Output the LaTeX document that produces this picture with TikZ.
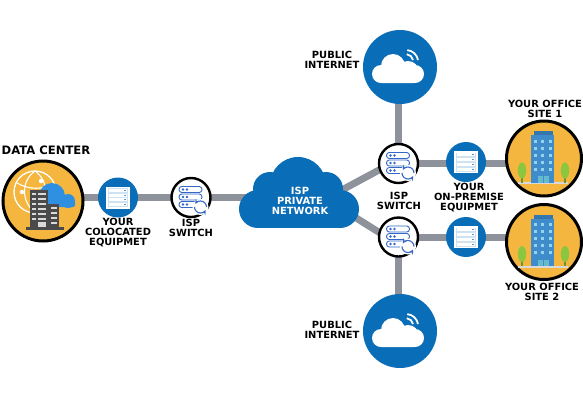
\documentclass[tikz,border=0pt]{standalone}
\usepackage{fontspec}
\setmainfont{DejaVu Sans}
\usetikzlibrary{backgrounds}
\definecolor{netblue}{HTML}{0A6DB7}
\definecolor{linkgray}{HTML}{8E929B}
\definecolor{sun}{HTML}{F4B63F}
\definecolor{swblue}{HTML}{3568C4}
\definecolor{bld}{HTML}{3E8CCB}
\definecolor{win}{HTML}{93D3EC}
\definecolor{tree}{HTML}{8CC63F}
\definecolor{dark}{HTML}{4A4A4A}
\definecolor{skyb}{HTML}{2F8FE0}
\tikzset{
 x=1pt,y=-1pt,
 link/.style={draw=linkgray,line width=7pt},
 bluedisc/.style={circle,fill=netblue,inner sep=0pt,outer sep=0pt},
 ringdisc/.style={circle,draw=black,line width=2.4pt,fill=white,inner sep=0pt,outer sep=0pt,minimum size=39pt},
 sundisc/.style={circle,draw=black,line width=3pt,fill=sun,inner sep=0pt,outer sep=0pt,minimum size=75pt},
 lab/.style={font=\fontsize{9.9}{10}\bfseries\selectfont,align=center,inner sep=0pt,text=black},
 whitelab/.style={lab,text=white},
 serverpic/.pic={
  \fill[white] (-12,-11) rectangle (12,11);
  \fill[white!80!netblue] (-10,-9.5) rectangle (10,9.5);
  \foreach \r in {-9.5,-4.7,0.1,4.9}{
    \fill[white] (-9,\r+0.8) rectangle (9,\r+3.7);
    \fill[netblue!70] (6,\r+1.7) rectangle (8,\r+2.8);}
 },
 switchpic/.pic={
  \foreach \r in {-8,-0.5,7}{
    \draw[swblue,line width=0.9pt,fill=white,rounded corners=2.8pt] (-12,\r-3) rectangle (11,\r+3);
    \fill[swblue] (-8,\r) circle[radius=1.3] (-4,\r) circle[radius=1.3];}
  \fill[white] (9.5,9.5) circle[radius=8];
  \draw[swblue,line width=1.1pt,-stealth] (15.5,9.5) arc[start angle=0,end angle=-150,radius=6];
  \draw[swblue,line width=1.1pt,-stealth] (3.5,9.5) arc[start angle=180,end angle=30,radius=6];
 },
 netcloudpic/.pic={
  \fill[white] (-7,-1) circle[radius=12] (-19,7) circle[radius=9] (15,7) circle[radius=9] (8,5) circle[radius=11];
  \fill[white,rounded corners=1pt] (-19,2) rectangle (15,16);
  \draw[white,line width=1.8pt] (13,-7) arc[start angle=-10,end angle=-85,radius=7];
  \draw[white,line width=1.8pt] (18,-7) arc[start angle=-10,end angle=-85,radius=12];
 },
 officepic/.pic={
  \fill[white!85!black] (-26,23.5) rectangle (24,25.5);
  \foreach \tx in {-22,21}{
   \fill[tree!75!black] (\tx-0.8,14) rectangle (\tx+0.8,24);
   \fill[tree] (\tx,12) ellipse[x radius=4.2,y radius=8];}
  \fill[bld!85!black] (-10,-27.5) rectangle (9,-22);
  \fill[bld] (-13,-23.5) rectangle (10,24);
  \foreach \wy in {-19,-12,-5,2,9}{
   \foreach \wx in {-10.5,-3,4.5}{
    \fill[win] (\wx,\wy) rectangle (\wx+3.4,\wy+3.4);}}
  \fill[win!70!teal] (-6,17.5) rectangle (-0.8,24);
  \fill[win!70!teal] (0,17.5) rectangle (5,24);
 },
 dcpic/.pic={
  \draw[white,line width=1.3pt] (-8,-9) circle[radius=21];
  \draw[white,line width=1.1pt] (-8,-30) .. controls (-22,-20) and (-22,0) .. (-8,12);
  \draw[white,line width=1.1pt] (-8,-30) .. controls (6,-20) and (6,0) .. (-8,12);
  \draw[white,line width=1.1pt] (-26,-18) .. controls (-14,-11) and (0,-11) .. (11,-18);
  \fill[white] (-21,-9) circle[radius=2.2] (-2,-20) circle[radius=2.2];
  \fill[skyb] (9,-5) circle[radius=13] (25,0) circle[radius=7] (2,0) circle[radius=6];
  \fill[skyb,rounded corners=2pt] (-1,-1) rectangle (32,6);
  \fill[dark] (-13,-11) rectangle (5,26);
  \fill[dark] (5,3) rectangle (16,26);
  \fill[dark] (-17,26) rectangle (21,28.5);
  \foreach \wy in {-8,-3,2,7,12,17}{
    \fill[white!85!black] (-11,\wy) rectangle (-7,\wy+1.7);
    \fill[white!85!black] (-5,\wy) rectangle (3,\wy+1.7);}
  \foreach \wy in {6,11,16,21}{
    \fill[white!85!black] (8,\wy) rectangle (14,\wy+1.5);}
  \fill[white!85!black] (-5,21) rectangle (3,26);
 }
}
\begin{document}
\begin{tikzpicture}
\useasboundingbox (0,0) rectangle (583,400);
% cloud shape
\fill[netblue] (298,185) circle[radius=28] (270,189) circle[radius=17] (326,189) circle[radius=17] (258,209) circle[radius=19] (340,209) circle[radius=19];
\fill[netblue] (258,190) rectangle (340,228);
\node[whitelab] (ispnet) at (300,200.5) {ISP\\PRIVATE\\NETWORK};
\coordinate (cloudW) at (260,197.5);
\coordinate (cloudNE) at (340,191);
\coordinate (cloudSE) at (345,211);
% circles
\node[sundisc,minimum size=80pt] (dc) at (43,201) {};
\node[bluedisc,minimum size=40pt] (colo) at (118,197.5) {};
\node[ringdisc] (swL) at (191,197.5) {};
\node[ringdisc] (swT) at (398.5,163.5) {};
\node[ringdisc] (swB) at (398.5,237) {};
\node[bluedisc,minimum size=74pt] (pubT) at (400,67) {};
\node[bluedisc,minimum size=74pt] (pubB) at (400,331) {};
\node[bluedisc,minimum size=40pt] (eqT) at (466,162) {};
\node[bluedisc,minimum size=40pt] (eqB) at (466,237) {};
\node[sundisc] (ofT) at (544,158.5) {};
\node[sundisc] (ofB) at (544,242) {};
% connectors
\begin{scope}[on background layer]
\draw[link] (dc.center |- colo.center) -- (colo.center);
\draw[link] (colo.center) -- (swL.center);
\draw[link] (swL.center) -- (cloudW);
\draw[link] (cloudNE) -- (swT.198);
\draw[link] (cloudSE) -- (swB.167);
\draw[link] (pubT.center -| swT.center) -- (swT.center);
\draw[link] (pubB.center -| swB.center) -- (swB.center);
\draw[link] (swT.center) -- (swT.center -| eqT.center);
\draw[link] (swB.center) -- (eqB.center);
\draw[link] (swT.center -| eqT.center) -- (swT.center -| ofT.center);
\draw[link] (eqB.center) -- (eqB.center -| ofB.center);
\end{scope}
% icons
\pic at (dc.center) {dcpic};
\pic at (colo.center) {serverpic};
\pic at (eqT.center) {serverpic};
\pic at (eqB.center) {serverpic};
\pic at (swL.center) {switchpic};
\pic at (swT.center) {switchpic};
\pic at (swB.center) {switchpic};
\pic at (pubT.center) {netcloudpic};
\pic at (pubB.center) {netcloudpic};
\pic at (ofT.center) {officepic};
\pic at (ofB.center) {officepic};
% labels
\node[lab,font=\fontsize{11.6}{12}\bfseries\selectfont] (ldc) at (46,150.5) {DATA CENTER};
\node[lab] (lcolo) at (118,232.5) {YOUR\\COLOCATED\\EQUIPMET};
\node[lab] (lswL) at (191,228) {ISP\\SWITCH};
\node[lab] (lswR) at (399,200.5) {ISP\\SWITCH};
\node[lab] (lprem) at (469,198) {YOUR\\ON-PREMISE\\EQUIPMET};
\node[lab] (lofT) at (545,109) {YOUR OFFICE\\SITE 1};
\node[lab] (lofB) at (542,292) {YOUR OFFICE\\SITE 2};
\node[lab] (lpubT) at (332,60) {PUBLIC\\INTERNET};
\node[lab] (lpubB) at (332,329.5) {PUBLIC\\INTERNET};
\end{tikzpicture}
\end{document}
